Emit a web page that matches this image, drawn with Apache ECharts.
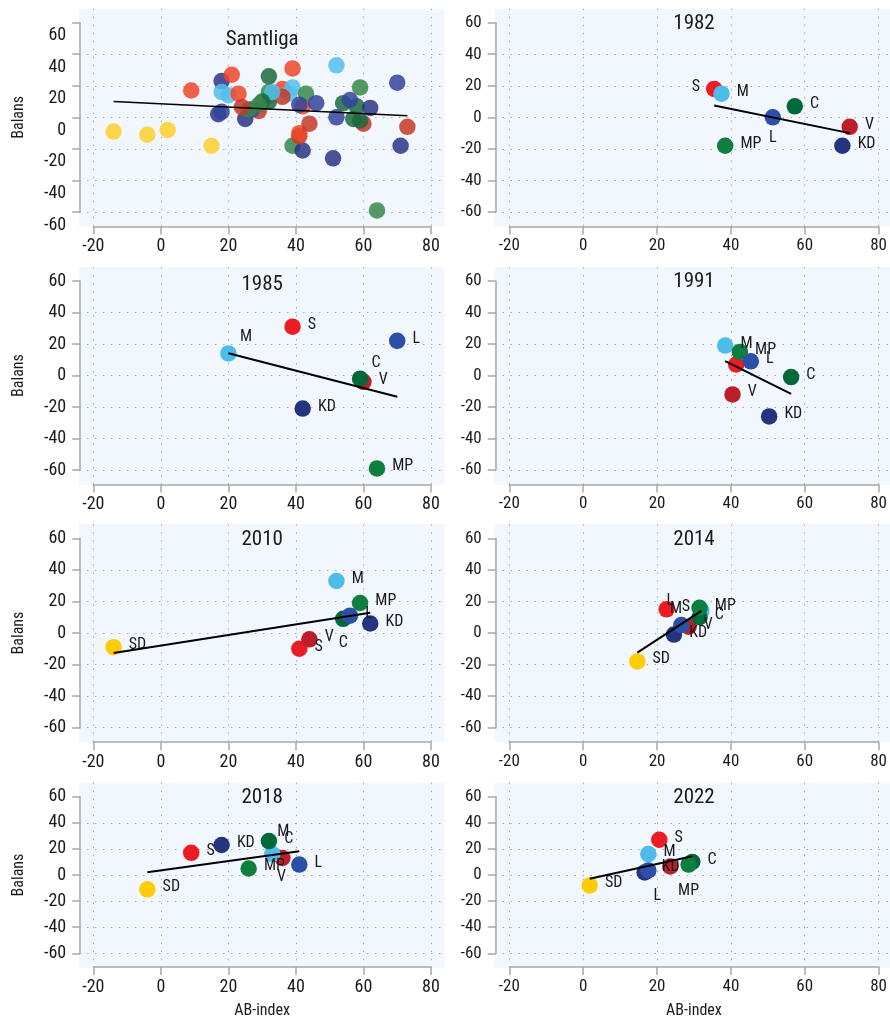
<!DOCTYPE html>
<html><head><meta charset="utf-8">
<script src="https://cdn.jsdelivr.net/npm/echarts@6/dist/echarts.min.js"></script>
<style>html,body{margin:0;padding:0;background:#fff}#c{width:890px;height:1020px}</style>
</head><body><div id="c"></div>
<script>
// ---------------- DATA ----------------
const parties = ['S', 'V', 'M', 'C', 'MP', 'KD', 'L', 'SD'];
const years = ['1982', '1985', '1991', '2010', '2014', '2018', '2022'];
// AB-index (x) and Balans (y), values in the order of `parties`
const ab1982 = [36, 73, 38, 58, 39, 71, 52, null];
const bal1982 = [18, -6, 15, 7, -18, -18, 0, null];
const ab1985 = [39, 60, 20, 59, 64, 42, 70, null];
const bal1985 = [31, -4, 14, -2, -59, -21, 22, null];
const ab1991 = [42, 41, 39, 57, 43, 51, 46, null];
const bal1991 = [7, -12, 19, -1, 15, -26, 9, null];
const ab2010 = [41, 44, 52, 54, 59, 62, 56, -14];
const bal2010 = [-10, -4, 33, 9, 19, 6, 11, -9];
const ab2014 = [23, 29, 32.5, 32, 32, 25, 27, 15];
const bal2014 = [15, 4, 14, 10, 16, -1, 5, -18];
const ab2018 = [9, 36, 33, 32, 26, 18, 41, -4];
const bal2018 = [17, 13, 16, 26, 5, 23, 8, -11];
const ab2022 = [21, 24, 18, 30, 29, 17, 18, 2];
const bal2022 = [27, 6.5, 16, 10, 8, 2, 3.5, -8];
const xTicks = [-20, 0, 20, 40, 60, 80];
const yTicks = [-60, -40, -20, 0, 20, 40, 60];
const allTitle = 'Samtliga';
const xName = 'AB-index';
const yName = 'Balans';

const abByYear = {'1982': ab1982, '1985': ab1985, '1991': ab1991, '2010': ab2010, '2014': ab2014, '2018': ab2018, '2022': ab2022};
const balByYear = {'1982': bal1982, '1985': bal1985, '1991': bal1991, '2010': bal2010, '2014': bal2014, '2018': bal2018, '2022': bal2022};

// ---------------- STYLE / LAYOUT ----------------
const FONT = "'Liberation Sans Narrow', 'Roboto Condensed', 'DejaVu Sans Condensed', 'Liberation Sans', sans-serif";
const partyColor = {S: '#ED1C24', V: '#BD1F2A', M: '#4CBDEA', C: '#00693A', MP: '#0E7F3E', KD: '#243580', L: '#2C50A8', SD: '#FFCB05'};
const allColor = {S: '#EE4528', V: '#C43A26', M: '#55BEEC', C: '#1C6A3E', MP: '#3A874A', KD: '#2B3585', L: '#34449E', SD: '#FFCF2E'};
const COLS = [{bgL: 79, bgR: 444.5, xa: 93.3, xb: 431, tick: 18}, {bgL: 494.5, bgR: 893.5, xa: 509.3, xb: 878.7, tick: 17}];
const ROWS = [{ya: 22.7, yb: 212}, {ya: 281, yb: 470}, {ya: 538.3, yb: 727.7}, {ya: 796.7, yb: 953.3}];
const PAD_T = 14, PAD_B = 14.5;
const titleDy = [16.6, 1.3, 4, 0.7, 1.7, 1.7, 0.6, 0.6];
const SYMBOL = 16.5;
// label placement (centre offsets in px) for crowded points
const LABEL_SPEC = {
  '1982': {S: 'left', L: [0, 20.7]},
  '1985': {M: [17.7, -16], C: [16, -16]},
  '1991': {S: 'hide'},
  '2010': {C: [0, 24]},
  '2014': {L: [-11, -24.3], M: [-25.3, -1.7]},
  '2018': {M: [11, -22], V: [-1, 19]},
  '2022': {V: 'hide', MP: [0, 26.7], L: [9, 26], KD: [26, -5]}
};
const AXIS_COLOR = '#A8A8A8';
const TXT = '#1a1a1a';

function labelFor(year, party) {
  const spec = (LABEL_SPEC[year] || {})[party];
  const base = {fontFamily: FONT, fontSize: 16, color: TXT};
  if (spec === 'hide') return {show: false};
  if (spec === 'left') return Object.assign(base, {show: true, position: 'left', distance: 6, offset: [0, -2]});
  if (Array.isArray(spec)) return Object.assign(base, {show: true, position: 'inside', offset: spec, align: 'center', verticalAlign: 'middle'});
  return Object.assign(base, {show: true, position: 'right', distance: 7, offset: [0, -2]});
}

function fitLine(xs, ys) {
  const px = [], py = [];
  xs.forEach((x, i) => { if (x != null && ys[i] != null) { px.push(x); py.push(ys[i]); } });
  const n = px.length;
  const mx = px.reduce((a, b) => a + b, 0) / n, my = py.reduce((a, b) => a + b, 0) / n;
  let sxx = 0, sxy = 0;
  for (let i = 0; i < n; i++) { sxx += (px[i] - mx) ** 2; sxy += (px[i] - mx) * (py[i] - my); }
  const b = sxy / sxx, a = my - b * mx;
  const x0 = Math.min(...px), x1 = Math.max(...px);
  return [[x0, a + b * x0], [x1, a + b * x1]];
}

const panels = [allTitle].concat(years);
const grid = [], xAxis = [], yAxis = [], series = [], graphic = [];

panels.forEach((title, i) => {
  const col = COLS[i % 2], row = ROWS[Math.floor(i / 2)];
  const rowIdx = Math.floor(i / 2);
  const bgTop = row.ya - PAD_T, bgBot = row.yb + PAD_B;
  const ppx = (col.xb - col.xa) / (xTicks[xTicks.length - 1] - xTicks[0]);
  const ppy = (row.yb - row.ya) / (yTicks[yTicks.length - 1] - yTicks[0]);
  const xMinA = xTicks[0] - (col.xa - col.bgL) / ppx;
  const xMaxA = xTicks[xTicks.length - 1] + (col.bgR - col.xb) / ppx;
  const yMinA = yTicks[0] - (bgBot - row.yb) / ppy;
  const yMaxA = yTicks[yTicks.length - 1] + (row.ya - bgTop) / ppy;
  const gA = i * 3, gB = i * 3 + 1, gC = i * 3 + 2;

  // grid A: background + data
  grid.push({left: col.bgL, top: bgTop, width: col.bgR - col.bgL, height: bgBot - bgTop, show: true, backgroundColor: '#F1F7FC', borderWidth: 0, z: 0});
  xAxis.push({gridIndex: gA, type: 'value', min: xMinA, max: xMaxA, show: false});
  yAxis.push({gridIndex: gA, type: 'value', min: yMinA, max: yMaxA, show: false});
  // grid B: x axis spanning tick range
  grid.push({left: col.xa, top: bgTop, width: col.xb - col.xa, height: bgBot - bgTop, show: false});
  const xa = {
    gridIndex: gB, type: 'value', min: xTicks[0], max: xTicks[xTicks.length - 1], interval: xTicks[1] - xTicks[0], z: 1,
    axisLine: {show: true, onZero: false, lineStyle: {color: AXIS_COLOR, width: 1.5}},
    axisTick: {show: true, length: 8, lineStyle: {color: AXIS_COLOR, width: 1.5}},
    axisLabel: {margin: 11, fontSize: col.tick, color: TXT, fontFamily: FONT, showMinLabel: true, showMaxLabel: true, hideOverlap: false},
    splitLine: {show: true, lineStyle: {type: [1.5, 6.5], color: '#AAAAAA', width: 1}}
  };
  if (rowIdx === 3) Object.assign(xa, {name: xName, nameLocation: 'middle', nameGap: 36, nameTextStyle: {fontSize: 16, color: TXT, fontFamily: FONT}});
  xAxis.push(xa);
  yAxis.push({gridIndex: gB, type: 'value', min: 0, max: 1, show: false});
  // grid C: y axis spanning tick range
  grid.push({left: col.bgL, top: row.ya, width: col.bgR - col.bgL, height: row.yb - row.ya, show: false});
  xAxis.push({gridIndex: gC, type: 'value', min: 0, max: 1, show: false});
  const ya = {
    gridIndex: gC, type: 'value', min: yTicks[0], max: yTicks[yTicks.length - 1], interval: yTicks[1] - yTicks[0], z: 1, offset: -1.2,
    axisLine: {show: true, onZero: false, lineStyle: {color: AXIS_COLOR, width: 1.5}},
    axisTick: {show: true, length: 8, lineStyle: {color: AXIS_COLOR, width: 1.5}},
    axisLabel: {margin: 14, fontSize: col.tick, color: TXT, fontFamily: FONT, showMinLabel: true, showMaxLabel: true, hideOverlap: false},
    splitLine: {show: true, showMaxLine: false, lineStyle: {type: [1.5, 6.5], color: '#AAAAAA', width: 1}}
  };
  if (i === 0) { ya.axisLabel.verticalAlign = 'top'; ya.axisLabel.padding = [4, 0, 0, 0]; }
  if (i % 2 === 0) Object.assign(ya, {name: yName, nameLocation: 'middle', nameGap: 53, nameTextStyle: {fontSize: 16, color: TXT, fontFamily: FONT}});
  yAxis.push(ya);

  // title
  graphic.push({type: 'text', x: (col.xa + col.xb) / 2, y: row.ya + titleDy[i], z: 10,
    style: {text: title, fontSize: 21, fontFamily: FONT, fill: TXT, align: 'center', verticalAlign: 'middle'}});

  // data
  let xsAll = [], ysAll = [], pts = [];
  const yrs = (title === allTitle) ? years : [title];
  yrs.forEach(y => {
    const xs = abByYear[y], ys = balByYear[y];
    parties.forEach((p, k) => {
      if (xs[k] == null) return;
      xsAll.push(xs[k]); ysAll.push(ys[k]);
      if (title === allTitle) {
        pts.push({value: [xs[k], ys[k]], name: p, itemStyle: {color: allColor[p], opacity: 0.85}});
      } else {
        pts.push({value: [xs[k], ys[k]], name: p, itemStyle: {color: partyColor[p], opacity: 1}, label: labelFor(y, p)});
      }
    });
  });
  series.push({type: 'scatter', xAxisIndex: gA, yAxisIndex: gA, symbolSize: SYMBOL, clip: false, z: 3, data: pts,
    label: {formatter: '{b}'}, emphasis: {disabled: true}, animation: false});
  series.push({type: 'line', xAxisIndex: gA, yAxisIndex: gA, symbol: 'none', clip: false, z: 4,
    lineStyle: {color: '#000', width: i === 0 ? 1.5 : 2}, data: fitLine(xsAll, ysAll), animation: false, silent: true});
});

const chart = echarts.init(document.getElementById('c'), null, {renderer: 'canvas'});
chart.setOption({animation: false, grid, xAxis, yAxis, series, graphic});
</script>
</body></html>
